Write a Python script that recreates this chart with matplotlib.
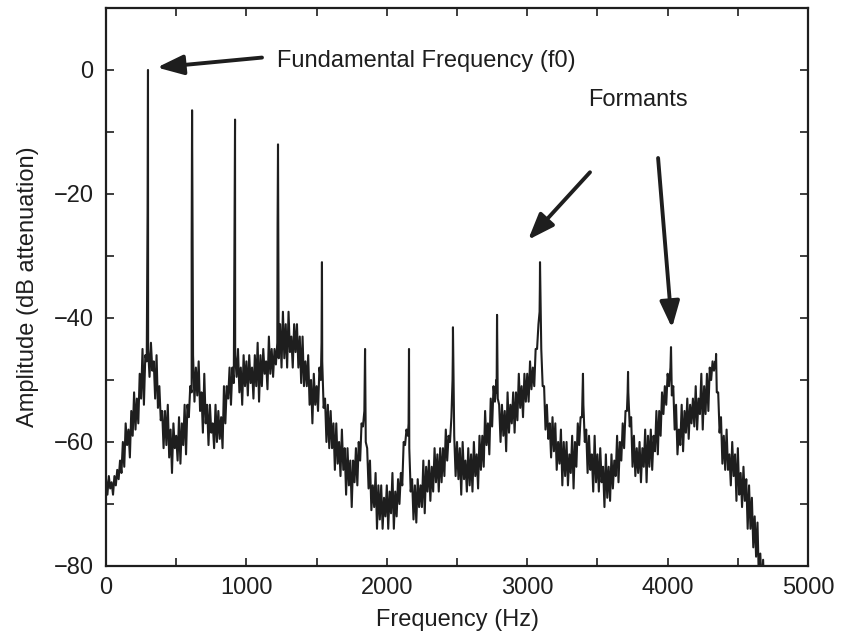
import numpy as np
import matplotlib
matplotlib.use("Agg")
import matplotlib.pyplot as plt

plt.rcParams['font.family'] = ['Liberation Sans', 'DejaVu Sans']

# spectrum floor (dB)
# upper edge of the noise band at 0, 20, ... 4700 Hz
floor_top_db = [
    -66, -65.5, -66.5, -65.5, -64.5, -63, -60, -57, -58, -55,
    -52, -53, -49, -45, -46, -45, -44, -47, -46, -51,
    -55, -55, -54, -58, -57, -59, -56, -57, -54, -54,
    -51, -46, -48, -47, -52, -49, -54, -54, -57, -54,
    -55, -56, -51, -51, -48, -48, -46, -45, -48, -46,
    -47, -46, -48, -46, -44, -46, -45, -47, -43, -45,
    -45, -44, -41, -39, -41, -39, -43, -41, -41, -43,
    -43, -47, -46, -50, -49, -51, -48, -47, -53, -54,
    -55, -57, -57, -60, -58, -61, -61, -63, -63, -61,
    -60, -57, -55, -61, -63, -67, -65, -67, -67, -69,
    -67, -68, -65, -68, -66, -65, -60, -58, -61, -66,
    -67, -66, -67, -63, -64, -63, -64, -61, -62, -61,
    -61, -58, -59, -56, -59, -60, -61, -60, -63, -61,
    -62, -60, -62, -59, -59, -55, -57, -53, -51, -50,
    -54, -54, -55, -52, -54, -52, -52, -49, -51, -49,
    -49, -47, -48, -45, -41, -45, -51, -54, -57, -56,
    -57, -60, -58, -60, -60, -62, -59, -60, -57, -56,
    -54, -58, -59, -62, -59, -62, -61, -64, -62, -64,
    -62, -63, -59, -60, -57, -55, -52, -56, -59, -61,
    -60, -61, -58, -59, -58, -59, -55, -55, -52, -51,
    -49, -48, -51, -54, -58, -54, -55, -53, -54, -53,
    -51, -53, -49, -51, -49, -48, -47, -47, -52, -56,
    -59, -58, -62, -60, -62, -61, -65, -64, -66, -67,
    -69, -72, -73, -78, -79, -83,
]
# lower edge of the noise band at 10, 30, ... 4690 Hz
floor_low_db = [
    -68.5, -67.5, -68.5, -67, -66, -65, -64, -60.5, -62.5, -59,
    -58, -57, -53, -54, -47, -49.5, -48.5, -53, -54.5, -56.5,
    -61, -60.5, -62.5, -65, -61, -63, -63.5, -60.5, -62, -56,
    -52, -53.5, -52.5, -55, -58.5, -57, -60.5, -58.5, -61, -60,
    -59.5, -61, -57, -53, -54, -50.5, -49.5, -52, -54, -51,
    -52.5, -50.5, -53, -51, -53.5, -51, -49, -51.5, -49, -49.5,
    -47.5, -46.5, -48, -46.5, -48, -45.5, -48, -45.5, -48, -50.5,
    -51, -51, -54, -57, -54, -55, -50, -54.5, -60, -61,
    -61, -64.5, -63.5, -65.5, -64.5, -68.5, -67, -70.5, -66.5, -67,
    -63, -57.5, -60, -67.5, -71, -70.5, -74, -72.5, -74, -72,
    -74, -71.5, -74, -72, -70, -67, -60.5, -59, -68, -72.5,
    -73, -70.5, -70.5, -71.5, -68, -69.5, -68, -66.5, -68, -66.5,
    -65.5, -63, -60, -46, -65.5, -66, -68.5, -66, -68, -67,
    -68, -65.5, -67.5, -64.5, -64, -60.5, -62, -57.5, -53.5, -53,
    -60, -59, -61.5, -58.5, -57, -58.5, -56.5, -54.5, -56, -53.5,
    -53.5, -51.5, -51, -45, -35, -51, -58, -59.5, -62.5, -61.5,
    -64.5, -63.5, -67, -65.5, -67, -65, -67.5, -64, -60.5, -56,
    -60, -65, -64.5, -68, -66.5, -68, -66.5, -70.5, -69, -69.5,
    -67.5, -65.5, -66.5, -63, -61, -55, -57.5, -64, -65.5, -65,
    -66.5, -64, -66.5, -64, -64.5, -61.5, -62, -59, -55.5, -54,
    -51, -52.5, -58, -62, -60.5, -61.5, -58.5, -59.5, -57, -57.5,
    -58, -55.5, -58, -55.5, -55, -50, -48.5, -52, -58.5, -63.5,
    -64.5, -64.5, -67, -65.5, -69.5, -68.5, -70.5, -69.5, -74, -74,
    -77, -78.5, -82.5, -84, -86.5,
]

# harmonic peaks
peak_hz = [299, 613, 919, 1225, 1538, 1845, 2158, 2471, 2785, 3091, 3397, 3718, 4024, 4345]
peak_db = [0, -6.5, -8, -12, -31, -45, -45, -41.5, -39.5, -31, -49, -48.7, -44.7, -45.8]

# shoulders on the rising side of the peaks
shoulder_hz = [296, 610, 916, 1222, 1535, 2155, 2468, 2782, 3088, 3394, 3715, 4342]
shoulder_db = [-23, -28, -24, -25, -44, -57, -50, -52, -39, -52, -52, -48]

top_hz = np.arange(len(floor_top_db)) * 20
low_hz = np.arange(len(floor_low_db)) * 20 + 10
hz = np.concatenate([top_hz, low_hz, peak_hz, shoulder_hz])
db = np.concatenate([floor_top_db, floor_low_db, peak_db, shoulder_db])
order = np.argsort(hz, kind='stable')
hz, db = hz[order], db[order]

ink = '#1e1e1e'
fs = 17

fig = plt.figure(figsize=(8.44, 6.43), dpi=100)
ax = fig.add_axes([0.1256, 0.1198, 0.8318, 0.8678])

ax.plot(hz, db, color=ink, lw=1.5)

ax.set_xlim(0, 5000)
ax.set_ylim(-80, 10)
ax.set_xticks(np.arange(0, 5001, 500))
ax.set_xticklabels([str(v) if v % 1000 == 0 else '' for v in range(0, 5001, 500)])
ax.set_yticks(np.arange(-80, 11, 10))
ax.set_yticklabels(['\u2212' + str(-v) if v < 0 and v % 20 == 0 else ('0' if v == 0 else '')
                    for v in range(-80, 11, 10)])
ax.tick_params(direction='in', top=True, right=True, length=6, width=1.2,
               labelsize=fs, colors=ink)
ax.tick_params(axis='x', pad=8)
ax.tick_params(axis='y', pad=9)
for s in ax.spines.values():
    s.set_linewidth(1.6)
    s.set_color(ink)

ax.set_xlabel('Frequency (Hz)', fontsize=fs, color=ink, labelpad=7)
ax.set_ylabel('Amplitude (dB attenuation)', fontsize=fs, color=ink, labelpad=10)

arrow = dict(arrowstyle='-|>,head_length=0.8,head_width=0.3', mutation_scale=20,
             lw=2.8, color=ink, shrinkA=0, shrinkB=0)

ax.text(1218, 0.5, 'Fundamental Frequency (f0)', fontsize=fs, color=ink,
        ha='left', va='baseline')
ax.annotate('', xy=(363, 0.4), xytext=(1111, 2.0), arrowprops=arrow)

ax.text(3790, -4.8, 'Formants', fontsize=fs, color=ink, ha='center', va='center')
ax.annotate('', xy=(3006, -27.4), xytext=(3447, -16.5), arrowprops=arrow)
ax.annotate('', xy=(4031, -41.6), xytext=(3932, -14.2), arrowprops=arrow)

fig.savefig('out.png', dpi=100)
